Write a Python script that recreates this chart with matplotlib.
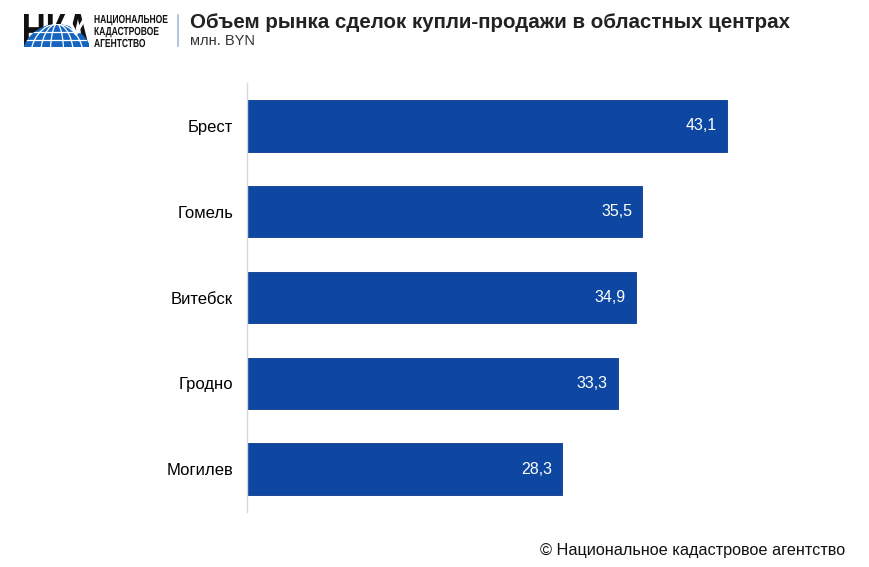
import matplotlib
matplotlib.use("Agg")
import matplotlib.pyplot as plt
from matplotlib.patches import Circle, Ellipse, PathPatch, Rectangle
from matplotlib.textpath import TextPath
from matplotlib.font_manager import FontProperties
from matplotlib.transforms import Affine2D

plt.rcParams["font.family"] = ["Liberation Sans", "DejaVu Sans"]

cities = ["Брест", "Гомель", "Витебск", "Гродно", "Могилев"]
values = [43.1, 35.5, 34.9, 33.3, 28.3]
value_labels = ["43,1", "35,5", "34,9", "33,3", "28,3"]
logo_lines = ["НАЦИОНАЛЬНОЕ", "КАДАСТРОВОЕ", "АГЕНТСТВО"]

BAR_COLOR = "#0d47a1"
LOGO_BLUE = "#1565c0"

W, H = 870, 567
fig = plt.figure(figsize=(W / 100, H / 100), dpi=100)
fig.patch.set_facecolor("white")

ax = fig.add_axes([247 / W, (H - 512) / H, 557 / W, 429 / H])
y = list(range(len(cities)))
ax.barh(y, values, height=0.6, color=BAR_COLOR, edgecolor="#0a3a8c", linewidth=0.6)
ax.set_xlim(0, 50)
ax.set_ylim(len(cities) - 0.5, -0.5)
ax.set_yticks(y)
ax.set_yticklabels(cities, fontsize=12)
ax.tick_params(axis="y", length=0, pad=10)
ax.set_xticks([])
for s in ["top", "right", "bottom"]:
    ax.spines[s].set_visible(False)
ax.spines["left"].set_color("#d9d9d9")
ax.spines["left"].set_linewidth(1)

for yi, v, lab in zip(y, values, value_labels):
    ax.text(v - 0.9, yi, lab, color="white", fontsize=11.5,
            ha="right", va="center")

# overlay in pixel coordinates (y measured from top)
ov = fig.add_axes([0, 0, 1, 1])
ov.set_xlim(0, W)
ov.set_ylim(H, 0)
ov.axis("off")
ov.patch.set_alpha(0)

BOLD = FontProperties(family="Liberation Sans", weight="bold")


def path_text(s, x0, baseline, sx, sy, color):
    # text drawn as a path with separate x/y scale (condensed look)
    tp = TextPath((0, 0), s, size=10, prop=BOLD)
    tr = Affine2D().scale(sx, -sy).translate(x0, baseline)
    patch = PathPatch(tr.transform_path(tp), facecolor=color,
                      edgecolor="none", transform=ov.transData)
    ov.add_patch(patch)
    return patch


# header
ov.text(190, 23, "Объем рынка сделок купли-продажи в областных центрах",
        fontsize=14.8, fontweight="bold", color="#222222", va="center", ha="left")
ov.text(190, 41, "млн. BYN", fontsize=10.5, color="#333333",
        va="center", ha="left")
ov.plot([178, 178], [15, 46], color="#a8b8d8", linewidth=1.2)

# logo (approximation)
box = Rectangle((24, 14), 65, 33, transform=ov.transData, facecolor="none",
                edgecolor="none")
ov.add_patch(box)
letters = TextPath((0, 0), "НКА", size=10, prop=BOLD).get_extents()
path_text("НКА", 24 - letters.x0 * 65 / letters.width, 47,
          65 / letters.width, 33 / letters.height, "#111111")
globe = Circle((57, 60), 36, facecolor=LOGO_BLUE, edgecolor="none")
ov.add_patch(globe)
globe.set_clip_path(box)
for w in [14, 34, 54]:
    m = Ellipse((57, 60), w, 72, facecolor="none", edgecolor="white",
                linewidth=0.9)
    ov.add_patch(m)
    m.set_clip_path(globe)
for yy in [32, 40]:
    ln, = ov.plot([20, 95], [yy, yy], color="white", linewidth=0.9)
    ln.set_clip_path(globe)
ck, = ov.plot([70, 76, 86], [22, 34, 16], color="white", linewidth=2.2)
ck.set_clip_path(box)

cap = TextPath((0, 0), "Н", size=10, prop=BOLD).get_extents().height
ref_w = TextPath((0, 0), logo_lines[0], size=10, prop=BOLD).get_extents().width
sx = 73 / ref_w
sy = 8 / cap
for i, line in enumerate(logo_lines):
    path_text(line, 94, 23 + i * 12, sx, sy, "#111111")

# footer
ov.text(845, 550, "© Национальное кадастровое агентство",
        fontsize=11.7, color="#111111", ha="right", va="center")

fig.savefig("out.png", dpi=100, facecolor="white")
